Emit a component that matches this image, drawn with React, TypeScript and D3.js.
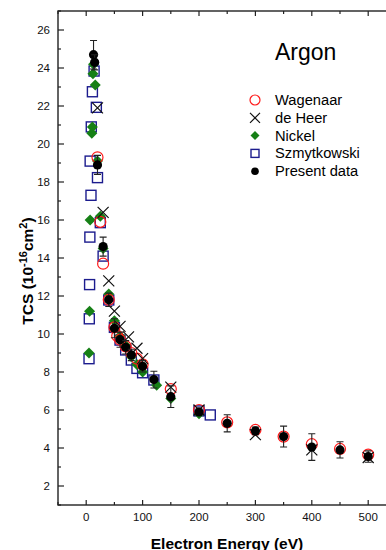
import * as d3 from "d3";

// Wagenaar (open red circles)
const wagE = [20, 25, 30, 40, 50, 55, 60, 70, 80, 90, 100, 150, 200, 250, 300, 350, 400, 450, 500];
const wagV = [19.3, 15.9, 13.7, 11.8, 10.35, 9.9, 9.7, 9.35, 9.0, 8.7, 8.4, 7.1, 6.0, 5.35, 4.95, 4.6, 4.2, 3.95, 3.65];

// de Heer (crosses)
const heerE = [20, 30, 40, 50, 60, 75, 90, 100, 150, 200, 300, 400, 500];
const heerV = [21.9, 16.4, 12.8, 11.2, 10.4, 9.85, 9.25, 8.7, 7.2, 6.0, 4.7, 3.9, 3.5];

// Nickel (green diamonds)
const nickE = [5, 6, 7, 10, 11, 12, 13, 16, 20, 25, 30, 40, 50, 60, 70, 80, 90, 100, 125, 150, 200];
const nickV = [9.0, 11.2, 16.0, 20.56, 20.9, 23.7, 24.2, 23.1, 19.1, 16.2, 14.5, 12.1, 10.7, 9.9, 9.4, 8.8, 8.4, 8.0, 7.3, 6.6, 5.8];

// Szmytkowski (open squares)
const szE = [5, 5.5, 6, 6.5, 8.5, 7, 9, 11, 14, 18, 20, 25, 30, 40, 50, 60, 70, 80, 90, 100, 120, 200, 220];
const szV = [8.7, 10.8, 12.6, 15.1, 17.3, 19.1, 20.9, 22.75, 23.84, 21.93, 18.23, 15.86, 14.1, 11.79, 10.35, 9.68, 9.16, 8.63, 8.19, 7.96, 7.58, 5.95, 5.74];

// Present data (filled circles with error bars)
const presE = [13, 15, 20, 30, 40, 50, 60, 70, 80, 100, 120, 150, 200, 250, 300, 350, 400, 450, 500];
const presV = [24.7, 24.3, 18.9, 14.6, 11.8, 10.3, 9.7, 9.3, 8.9, 8.3, 7.6, 6.7, 5.9, 5.3, 4.9, 4.6, 4.05, 3.9, 3.55];
const presErr = [0.75, 0.4, 0.5, 0.5, 0.35, 0.5, 0.4, 0.35, 0.3, 0.3, 0.44, 0.57, 0.15, 0.45, 0.2, 0.55, 0.7, 0.43, 0.3];

const xTicks = [0, 100, 200, 300, 400, 500];
const xMinor = [-50, 50, 150, 250, 350, 450, 550];
const yTicks = [2, 4, 6, 8, 10, 12, 14, 16, 18, 20, 22, 24, 26];
const yMinor = [1, 3, 5, 7, 9, 11, 13, 15, 17, 19, 21, 23, 25, 27];

const legendItems = ["Wagenaar", "de Heer", "Nickel", "Szmytkowski", "Present data"];

const W = 386;
const H = 550;
const font = "'Liberation Sans', Arial, sans-serif";
const axisColor = "#222";
const red = "#ff1a1a";
const green = "#168016";
const navy = "#1c1c8e";

const x = d3.scaleLinear().domain([-50, 550]).range([58, 396.4]);
const y = d3.scaleLinear().domain([1, 27]).range([505, 11]);

const Cross = ({ cx, cy, s }: { cx: number; cy: number; s: number }) => (
  <path d={`M${cx - s},${cy - s}L${cx + s},${cy + s}M${cx - s},${cy + s}L${cx + s},${cy - s}`} stroke="#111" strokeWidth={1.2} fill="none" />
);
const Diamond = ({ cx, cy, s }: { cx: number; cy: number; s: number }) => (
  <path d={`M${cx},${cy - s}L${cx + s},${cy}L${cx},${cy + s}L${cx - s},${cy}Z`} fill={green} />
);
const Square = ({ cx, cy, s }: { cx: number; cy: number; s: number }) => (
  <rect x={cx - s} y={cy - s} width={2 * s} height={2 * s} fill="none" stroke={navy} strokeWidth={1.4} />
);

export default function App() {
  const [x0, x1] = x.range();
  const [y0, y1] = y.range();
  return (
    <svg width={W} height={H} style={{ position: "absolute", left: 0, top: 0 }} fontFamily={font}>
      <rect width={W} height={H} fill="#fff" />
      {/* frame */}
      <rect x={x0} y={y1} width={x1 - x0} height={y0 - y1} fill="none" stroke={axisColor} strokeWidth={1.4} />
      {xTicks.map((t) => (
        <g key={"xt" + t}>
          <line x1={x(t)} x2={x(t)} y1={y0} y2={y0 - 5} stroke={axisColor} strokeWidth={1.2} />
          <line x1={x(t)} x2={x(t)} y1={y1} y2={y1 + 5} stroke={axisColor} strokeWidth={1.2} />
          <text x={x(t)} y={521} fontSize={11.5} textAnchor="middle" fill="#111">{t}</text>
        </g>
      ))}
      {xMinor.map((t) => (
        <g key={"xm" + t}>
          <line x1={x(t)} x2={x(t)} y1={y0} y2={y0 - 3} stroke={axisColor} strokeWidth={1.2} />
          <line x1={x(t)} x2={x(t)} y1={y1} y2={y1 + 3} stroke={axisColor} strokeWidth={1.2} />
        </g>
      ))}
      {yTicks.map((t) => (
        <g key={"yt" + t}>
          <line x1={x0} x2={x0 + 6} y1={y(t)} y2={y(t)} stroke={axisColor} strokeWidth={1.2} />
          <line x1={x1} x2={x1 - 6} y1={y(t)} y2={y(t)} stroke={axisColor} strokeWidth={1.2} />
          <text x={50} y={y(t) + 4} fontSize={11.5} textAnchor="end" fill="#111">{t}</text>
        </g>
      ))}
      {yMinor.map((t) => (
        <g key={"ym" + t}>
          <line x1={x0} x2={x0 + 3} y1={y(t)} y2={y(t)} stroke={axisColor} strokeWidth={1.2} />
          <line x1={x1} x2={x1 - 3} y1={y(t)} y2={y(t)} stroke={axisColor} strokeWidth={1.2} />
        </g>
      ))}

      {/* series */}
      {szE.map((e, i) => <Square key={"s" + i} cx={x(e)} cy={y(szV[i])} s={5} />)}
      {nickE.map((e, i) => <Diamond key={"n" + i} cx={x(e)} cy={y(nickV[i])} s={5.5} />)}
      {wagE.map((e, i) => (
        <circle key={"w" + i} cx={x(e)} cy={y(wagV[i])} r={5.5} fill="none" stroke={red} strokeWidth={1.2} />
      ))}
      {heerE.map((e, i) => <Cross key={"h" + i} cx={x(e)} cy={y(heerV[i])} s={5.5} />)}
      {presE.map((e, i) => {
        const cx = x(e);
        const top = y(presV[i] + presErr[i]);
        const bot = y(presV[i] - presErr[i]);
        return (
          <g key={"p" + i}>
            <path d={`M${cx},${top}V${bot}M${cx - 3.5},${top}H${cx + 3.5}M${cx - 3.5},${bot}H${cx + 3.5}`} stroke="#222" strokeWidth={1.1} fill="none" />
            <circle cx={cx} cy={y(presV[i])} r={4.6} fill="#000" />
          </g>
        );
      })}

      {/* title + legend */}
      <text x={275} y={59.5} fontSize={23} fill="#000">Argon</text>
      {legendItems.map((label, i) => {
        const ly = 100 + i * 17.8;
        const lx = 255;
        return (
          <g key={label}>
            {i === 0 && <circle cx={lx} cy={ly} r={5} fill="none" stroke={red} strokeWidth={1.2} />}
            {i === 1 && <Cross cx={lx} cy={ly} s={5} />}
            {i === 2 && <Diamond cx={lx} cy={ly} s={4.5} />}
            {i === 3 && <Square cx={lx} cy={ly} s={4} />}
            {i === 4 && <circle cx={lx} cy={ly} r={3.8} fill="#000" />}
            <text x={275} y={ly + 5} fontSize={14.7} fill="#000">{label}</text>
          </g>
        );
      })}

      {/* axis titles */}
      <text x={227} y={548.5} fontSize={15.5} fontWeight="bold" textAnchor="middle" fill="#000">Electron Energy (eV)</text>
      <text transform="translate(33,271) rotate(-90)" fontSize={15.5} fontWeight="bold" textAnchor="middle" fill="#000">
        TCS (10<tspan dy={-6} fontSize={11}>-16</tspan><tspan dy={6}>cm</tspan><tspan dy={-6} fontSize={11}>2</tspan><tspan dy={6}>)</tspan>
      </text>
    </svg>
  );
}
